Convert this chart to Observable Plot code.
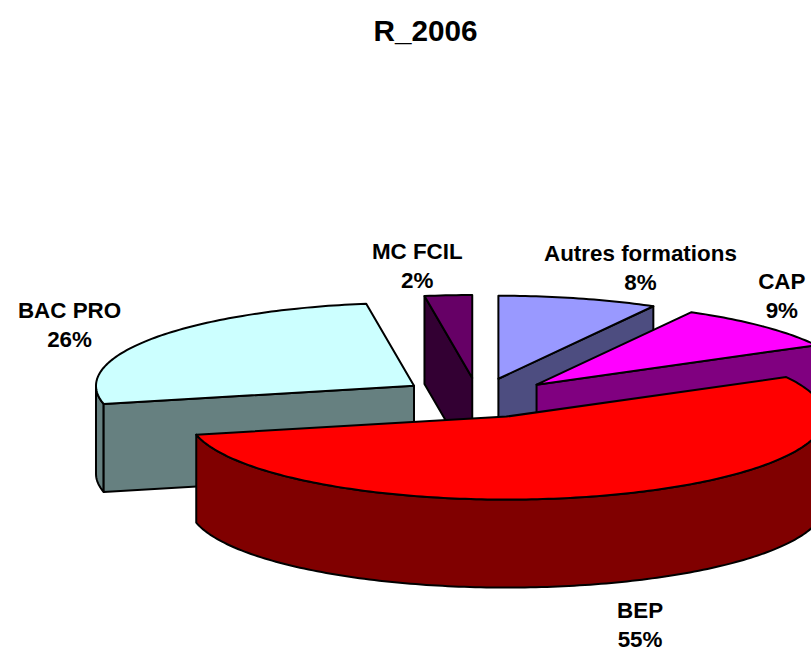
<!DOCTYPE html>
<html><head><meta charset="utf-8">
<style>html,body{margin:0;padding:0;background:#fff}svg{display:block}</style>
<script src="https://cdn.jsdelivr.net/npm/d3@7"></script>
<script src="https://cdn.jsdelivr.net/npm/@observablehq/plot@0.6"></script>
</head><body><script>
const categories = ["Autres formations","CAP","BEP","BAC PRO","MC FCIL"];
const shares = [8.1,9.0,54.4,26.1,2.4];
const shareLabels = ["8%","9%","55%","26%","2%"];
const topColors = ["#9999ff","#ff00ff","#ff0000","#ccffff","#660066"];
const sideColors = ["#4d4d80","#800080","#800000","#668080","#330033"];
const paintOrder = [4,3,0,1,2];
const labelNudge = [[62,-32],[19,-32],[22,129],[-82,-16],[-31,-31]];
const apexNudge = [[0,0],[0,0],[0,-5],[5,-2],[1,0]];
const W=811,H=652,cx=477,cy=400,rx=318,ry=83,depth=88,ex=83,ey=22.5;
const rad=d=>d*Math.PI/180;
const total=d3.sum(shares);
let acc=0;
const slices=shares.map((v,i)=>{const t0=acc/total*360;acc+=v;const t1=acc/total*360;const m=(t0+t1)/2;
  return {i,t0,t1,m,ax:cx+ex*Math.sin(rad(m))+apexNudge[i][0],ay:cy-ey*Math.cos(rad(m))+apexNudge[i][1]};});
const pt=(s,t,z=0)=>({x:s.ax+rx*Math.sin(rad(t)),y:s.ay-ry*Math.cos(rad(t))+z});
const arc=(s,a,b,z=0)=>{const n=Math.max(2,Math.ceil(Math.abs(b-a)));return d3.range(n+1).map(k=>pt(s,a+(b-a)*k/n,z));};
const apex=(s,z=0)=>({x:s.ax,y:s.ay+z});
const style={stroke:"#000",strokeWidth:2,strokeLinejoin:"round",curve:"linear",x:"x",y:"y"};
const poly=(p,fill)=>Plot.line([...p,p[0]],{...style,fill});
const marks=[];
for(const i of paintOrder){
  const s=slices[i];
  const a=Math.max(s.t0,90),b=Math.min(s.t1,270);
  if(b>a) marks.push(poly([...arc(s,a,b),...arc(s,b,a,depth)],sideColors[i]));
  const radial=(s.t1<180)?s.t1:(s.t0>=180?s.t0:null);
  if(radial!==null) marks.push(poly([apex(s),pt(s,radial),pt(s,radial,depth),apex(s,depth)],sideColors[i]));
  marks.push(poly([apex(s),...arc(s,s.t0,s.t1)],topColors[i]));
}
const labels=slices.map(s=>{const p=pt(s,s.m);return {x:p.x+labelNudge[s.i][0],y:p.y+labelNudge[s.i][1],text:categories[s.i]+"\n"+shareLabels[s.i]};});
const font={fontFamily:"'Liberation Sans',Arial,sans-serif",fontWeight:"bold",fill:"#000"};
marks.push(Plot.text(labels,{x:"x",y:"y",text:"text",fontSize:22.4,lineHeight:1.3,...font}));
marks.push(Plot.text(["R_2006"],{x:()=>425,frameAnchor:"top",dy:19,text:d=>d,fontSize:29.7,...font}));
const chart=Plot.plot({width:W,height:H,margin:0,
  x:{domain:[0,W],range:[0,W],axis:null},y:{domain:[0,H],range:[0,H],axis:null},marks});
document.body.appendChild(chart);
</script></body></html>
